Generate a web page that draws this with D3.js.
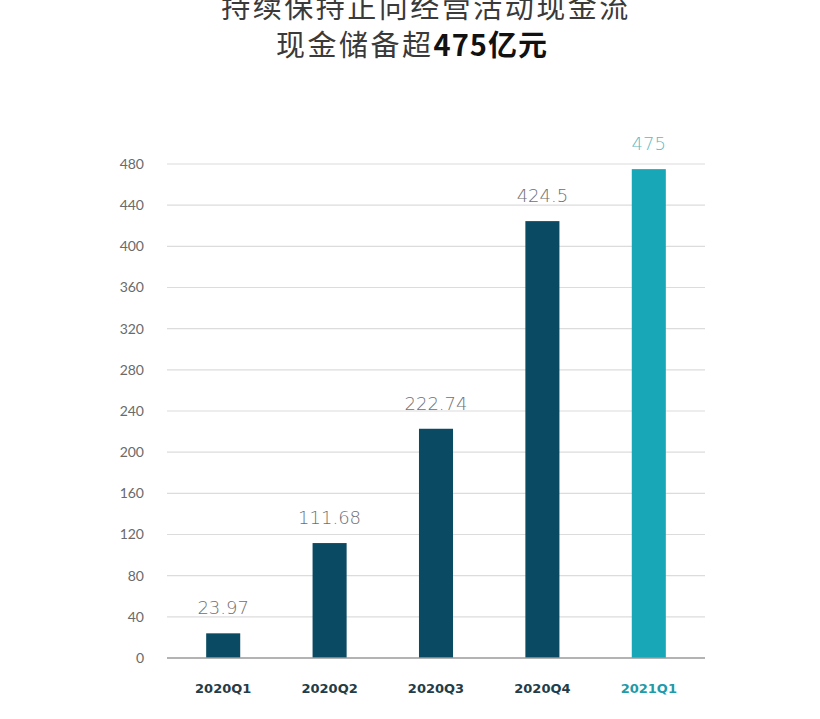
<!DOCTYPE html>
<html>
<head>
<meta charset="utf-8">
<script src="https://cdn.jsdelivr.net/npm/d3@7"></script>
<style>
  body { margin: 0; background: #fff; }
  svg { display: block; }
</style>
</head>
<body>
<figure style="margin:0"></figure>
<script>
const width = 820
const height = 719

// data
const quarters = ['2020Q1', '2020Q2', '2020Q3', '2020Q4', '2021Q1']
const cash = [23.97, 111.68, 222.74, 424.5, 475]
const valueLabels = ['23.97', '111.68', '222.74', '424.5', '475']
const yTicks = [0, 40, 80, 120, 160, 200, 240, 280, 320, 360, 400, 440, 480]

const dark = '#0b4a63'
const teal = '#17a7b6'

const svg = d3.select('figure').append('svg')
  .attr('width', width)
  .attr('height', height)

// title (first line sits against the top edge, as in the source image)
const title = svg.append('g')
  .attr('font-family', '"Noto Sans CJK SC", sans-serif')
  .attr('text-anchor', 'middle')
  .attr('letter-spacing', 2.5)
title.append('text')
  .attr('x', 426).attr('y', 18)
  .attr('font-size', 29)
  .attr('fill', '#3a3a3a')
  .text('持续保持正向经营活动现金流')
const t2 = title.append('text')
  .attr('x', 412).attr('y', 56)
  .attr('font-size', 29)
t2.append('tspan').attr('fill', '#3a3a3a').text('现金储备超')
t2.append('tspan').attr('font-weight', 'bold').attr('fill', '#111').attr('letter-spacing', 1).text('475亿元')

// scales
const x = d3.scaleBand().domain(quarters).range([170, 702]).paddingInner(0.68).paddingOuter(0.34)
const y = d3.scaleLinear().domain([0, 480]).range([658, 164])

// grid
svg.append('g')
  .selectAll('line')
  .data(yTicks.filter(d => d > 0))
  .join('line')
    .attr('x1', 167).attr('x2', 705)
    .attr('y1', d => y(d)).attr('y2', d => y(d))
    .attr('stroke', '#dcdcdc')
    .attr('stroke-width', 1.2)

// y axis labels
const yAxis = svg.append('g')
  .attr('transform', 'translate(144,0)')
  .call(d3.axisLeft(y).tickValues(yTicks).tickSize(0).tickPadding(0))
yAxis.select('.domain').remove()
yAxis.selectAll('text')
  .attr('font-family', 'Lato, "DejaVu Sans", sans-serif')
  .attr('font-size', 14)
  .attr('fill', '#6a6a6a')

// bars
svg.append('g')
  .selectAll('rect')
  .data(quarters)
  .join('rect')
    .attr('x', d => x(d))
    .attr('width', x.bandwidth())
    .attr('y', (d, i) => y(cash[i]))
    .attr('height', (d, i) => y(0) - y(cash[i]))
    .attr('fill', (d, i) => i === quarters.length - 1 ? teal : dark)

// baseline
svg.append('line')
  .attr('x1', 167).attr('x2', 705)
  .attr('y1', y(0)).attr('y2', y(0))
  .attr('stroke', '#9a9a9a')
  .attr('stroke-width', 1.5)

// value labels
svg.append('g')
  .selectAll('text')
  .data(quarters)
  .join('text')
    .attr('x', d => x(d) + x.bandwidth() / 2)
    .attr('y', (d, i) => y(cash[i]) - 19)
    .attr('text-anchor', 'middle')
    .attr('font-family', '"DejaVu Sans", sans-serif')
    .attr('font-weight', 300)
    .attr('font-size', 18)
    .attr('fill', (d, i) => i === quarters.length - 1 ? '#5fb9c4' : '#707070')
    .text((d, i) => valueLabels[i])

// category labels
const xAxis = svg.append('g')
  .attr('transform', `translate(0,${y(0)})`)
  .call(d3.axisBottom(x).tickSize(0).tickPadding(26))
xAxis.select('.domain').remove()
xAxis.selectAll('text')
  .attr('font-family', '"DejaVu Sans", sans-serif')
  .attr('font-weight', 'bold')
  .attr('font-size', 13)
  .attr('fill', (d, i) => i === quarters.length - 1 ? '#1f9aa8' : '#233c47')
</script>
</body>
</html>
